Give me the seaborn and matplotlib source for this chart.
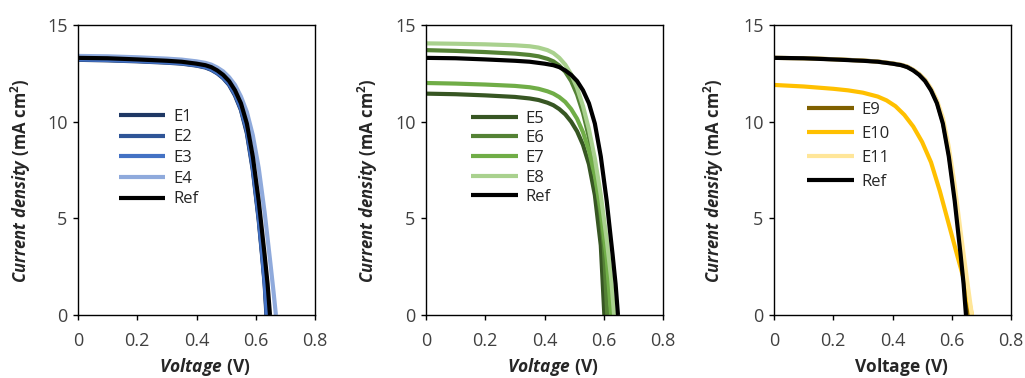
import numpy as np
import pandas as pd
import matplotlib
matplotlib.use("Agg")
import matplotlib.pyplot as plt
import seaborn as sns

# ---------------- data ----------------
V_ref = [0, 0.1, 0.2, 0.3, 0.35, 0.4, 0.43, 0.45, 0.47, 0.49, 0.51, 0.53, 0.55, 0.57, 0.59, 0.61, 0.63, 0.64, 0.648]
J_ref = [13.3, 13.28, 13.22, 13.15, 13.1, 13.0, 12.92, 12.82, 12.65, 12.42, 12.1, 11.62, 10.95, 9.9, 8.2, 5.9, 3.1, 1.6, 0.0]

# panel 1
V_E1 = [0, 0.1, 0.2, 0.3, 0.35, 0.4, 0.43, 0.45, 0.47, 0.49, 0.51, 0.53, 0.55, 0.57, 0.59, 0.61, 0.62, 0.63, 0.636]
J_E1 = [13.2, 13.17, 13.12, 13.05, 13.0, 12.9, 12.8, 12.68, 12.5, 12.25, 11.9, 11.35, 10.6, 9.4, 7.5, 4.9, 3.3, 1.6, 0.0]
V_E2 = [0, 0.1, 0.2, 0.3, 0.35, 0.4, 0.43, 0.45, 0.47, 0.49, 0.51, 0.53, 0.55, 0.57, 0.59, 0.61, 0.62, 0.63, 0.637]
J_E2 = [13.25, 13.2, 13.15, 13.08, 13.03, 12.92, 12.83, 12.7, 12.52, 12.28, 11.93, 11.4, 10.65, 9.5, 7.6, 5.0, 3.4, 1.7, 0.0]
V_E3 = [0, 0.1, 0.2, 0.3, 0.35, 0.4, 0.43, 0.45, 0.47, 0.49, 0.51, 0.53, 0.55, 0.57, 0.59, 0.61, 0.62, 0.63, 0.638]
J_E3 = [13.22, 13.19, 13.14, 13.07, 13.02, 12.92, 12.83, 12.71, 12.54, 12.3, 11.96, 11.45, 10.7, 9.6, 7.7, 5.1, 3.5, 1.8, 0.0]
V_E4 = [0, 0.1, 0.2, 0.3, 0.35, 0.4, 0.43, 0.45, 0.47, 0.49, 0.51, 0.53, 0.55, 0.57, 0.59, 0.61, 0.63, 0.65, 0.66, 0.668]
J_E4 = [13.4, 13.38, 13.33, 13.26, 13.21, 13.12, 13.04, 12.95, 12.8, 12.6, 12.3, 11.9, 11.3, 10.5, 9.3, 7.6, 5.3, 2.6, 1.2, 0.0]

# panel 2
V_E5 = [0, 0.1, 0.2, 0.3, 0.35, 0.38, 0.41, 0.43, 0.45, 0.47, 0.49, 0.51, 0.53, 0.55, 0.57, 0.59, 0.602]
J_E5 = [11.45, 11.42, 11.36, 11.28, 11.2, 11.12, 10.98, 10.85, 10.65, 10.38, 10.0, 9.5, 8.8, 7.8, 6.2, 3.6, 0.0]
V_E6 = [0, 0.1, 0.2, 0.3, 0.35, 0.38, 0.41, 0.43, 0.45, 0.47, 0.49, 0.51, 0.53, 0.55, 0.57, 0.59, 0.60, 0.612]
J_E6 = [13.7, 13.66, 13.6, 13.52, 13.45, 13.38, 13.25, 13.12, 12.9, 12.58, 12.1, 11.4, 10.45, 9.2, 7.5, 5.1, 3.6, 0.0]
V_E7 = [0, 0.1, 0.2, 0.3, 0.35, 0.38, 0.41, 0.43, 0.45, 0.47, 0.49, 0.51, 0.53, 0.55, 0.57, 0.59, 0.61, 0.625]
J_E7 = [12.0, 11.97, 11.92, 11.85, 11.78, 11.7, 11.57, 11.45, 11.27, 11.02, 10.65, 10.15, 9.45, 8.5, 7.2, 5.4, 2.9, 0.0]
V_E8 = [0, 0.1, 0.2, 0.3, 0.35, 0.38, 0.41, 0.43, 0.45, 0.47, 0.49, 0.51, 0.53, 0.55, 0.57, 0.59, 0.61, 0.625, 0.635]
J_E8 = [14.05, 14.03, 14.0, 13.95, 13.9, 13.83, 13.7, 13.55, 13.3, 12.95, 12.45, 11.75, 10.8, 9.6, 8.1, 6.2, 3.9, 1.9, 0.0]

# panel 3
V_E9 = [0, 0.1, 0.2, 0.3, 0.35, 0.4, 0.43, 0.45, 0.47, 0.49, 0.51, 0.53, 0.55, 0.57, 0.59, 0.61, 0.63, 0.645, 0.655]
J_E9 = [13.3, 13.28, 13.23, 13.16, 13.11, 13.01, 12.93, 12.84, 12.67, 12.45, 12.14, 11.67, 11.02, 10.0, 8.4, 6.2, 3.6, 1.5, 0.0]
V_E10 = [0, 0.1, 0.2, 0.25, 0.3, 0.35, 0.38, 0.41, 0.44, 0.47, 0.5, 0.53, 0.56, 0.59, 0.62, 0.64, 0.655, 0.668]
J_E10 = [11.9, 11.82, 11.7, 11.62, 11.5, 11.3, 11.1, 10.8, 10.35, 9.75, 8.95, 7.9, 6.4, 4.7, 3.0, 1.9, 1.0, 0.0]
V_E11 = [0, 0.1, 0.2, 0.3, 0.35, 0.4, 0.43, 0.45, 0.47, 0.49, 0.51, 0.53, 0.55, 0.57, 0.59, 0.61, 0.63, 0.65, 0.668]
J_E11 = [13.3, 13.28, 13.23, 13.16, 13.11, 13.02, 12.94, 12.85, 12.68, 12.47, 12.17, 11.72, 11.1, 10.2, 8.7, 6.7, 4.3, 2.0, 0.0]

panels = [
    [("E1", V_E1, J_E1), ("E2", V_E2, J_E2), ("E3", V_E3, J_E3), ("E4", V_E4, J_E4), ("Ref", V_ref, J_ref)],
    [("E5", V_E5, J_E5), ("E6", V_E6, J_E6), ("E7", V_E7, J_E7), ("E8", V_E8, J_E8), ("Ref", V_ref, J_ref)],
    [("E9", V_E9, J_E9), ("E10", V_E10, J_E10), ("E11", V_E11, J_E11), ("Ref", V_ref, J_ref)],
]
colors = {
    "E1": "#1f3864", "E2": "#2f5597", "E3": "#4472c4", "E4": "#8faadc",
    "E5": "#375623", "E6": "#548235", "E7": "#70ad47", "E8": "#a9d18e",
    "E9": "#7f6000", "E10": "#ffc000", "E11": "#ffe699", "Ref": "#000000",
}
x_ticks = [0, 0.2, 0.4, 0.6, 0.8]
x_tick_labels = ["0", "0.2", "0.4", "0.6", "0.8"]
y_ticks = [0, 5, 10, 15]

# ---------------- styling ----------------
sns.set_theme(style="white")
plt.rcParams["font.family"] = ["Open Sans", "DejaVu Sans"]
plt.rcParams["mathtext.fontset"] = "custom"
plt.rcParams["mathtext.rm"] = "Open Sans"
plt.rcParams["mathtext.it"] = "Open Sans:italic"
plt.rcParams["mathtext.bf"] = "Open Sans:bold"
try:
    plt.rcParams["mathtext.bfit"] = "Open Sans:italic:bold"
except KeyError:
    pass

fig = plt.figure(figsize=(10.25, 3.78), dpi=100)
lefts = [78 / 1025, 426 / 1025, 774 / 1025]
width = 237 / 1025
bottom = 1 - 315 / 378
height = 290 / 378
leg_anchor = [(0.172, 0.711), (0.19, 0.705), (0.14, 0.735)]
leg_spacing = [0.28, 0.22, 0.48]
ylab_x = [-45 / 237, -46 / 237, -48 / 237]

for i, series in enumerate(panels):
    ax = fig.add_axes([lefts[i], bottom, width, height])
    rows = []
    for name, v, j in series:
        for vv, jj in zip(v, j):
            rows.append((name, vv, jj))
    df = pd.DataFrame(rows, columns=["series", "V", "J"])
    order = [s[0] for s in series]
    sns.lineplot(data=df, x="V", y="J", hue="series", hue_order=order,
                 palette=colors, sort=False, estimator=None, lw=3.0, ax=ax,
                 legend=True)
    for ln in ax.get_lines():
        ln.set_solid_joinstyle("round")
        ln.set_solid_capstyle("butt")
    ax.set_xlim(0, 0.8)
    ax.set_ylim(0, 15)
    ax.set_xticks(x_ticks)
    ax.set_xticklabels(x_tick_labels)
    ax.set_yticks(y_ticks)
    for sp in ax.spines.values():
        sp.set_visible(True)
        sp.set_color("black")
        sp.set_linewidth(1.0)
    ax.tick_params(axis="both", which="both", direction="out", length=3.6,
                   width=1, colors="black", labelsize=13,
                   bottom=True, left=True, top=False, right=False)
    ax.tick_params(axis="x", pad=9)
    ax.tick_params(axis="y", pad=4)
    for lab in ax.get_xticklabels() + ax.get_yticklabels():
        lab.set_color("#404040")
    ax.set_ylabel(r"$\mathbfit{Current\ density}\ \mathbf{(mA\ cm^2)}$",
                  fontsize=12)
    ax.yaxis.set_label_coords(ylab_x[i], 0.462)
    if i < 2:
        ax.set_xlabel(r"$\mathbfit{Voltage}\ \mathbf{(V)}$", fontsize=12.5)
    else:
        ax.set_xlabel(r"$\mathbf{Voltage\ (V)}$", fontsize=12.5)
    ax.xaxis.set_label_coords(0.536, -0.14)
    leg = ax.legend(loc="upper left", bbox_to_anchor=leg_anchor[i], frameon=False,
                    fontsize=12, handlelength=2.8, handletextpad=0.45,
                    labelspacing=leg_spacing[i], borderpad=0, borderaxespad=0)
    for h in leg.get_lines():
        h.set_linewidth(3.0)
    for t in leg.get_texts():
        t.set_color("#262626")

fig.savefig("out.png", dpi=100)
